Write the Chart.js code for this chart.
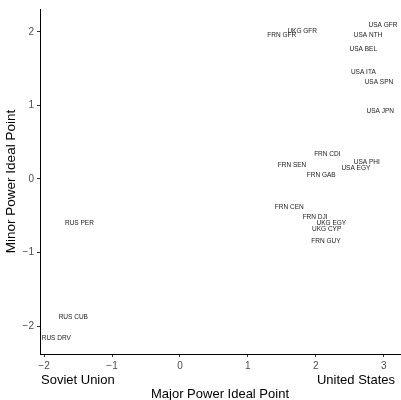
<!DOCTYPE html>
<html>
<head>
<meta charset="utf-8">
<script src="https://cdn.jsdelivr.net/npm/chart.js@4"></script>
<style>
  html, body { margin: 0; padding: 0; background: #fff; }
</style>
</head>
<body>
<canvas id="chart" width="401" height="400"></canvas>
<script>
// Dyad labels and their ideal points
const dyads = [
  "USA GFR", "USA NTH", "UKG GFR", "FRN GFR", "USA BEL", "USA ITA", "USA SPN", "USA JPN",
  "FRN CDI", "USA PHI", "FRN SEN", "USA EGY", "FRN GAB",
  "FRN CEN", "FRN DJI", "UKG EGY", "UKG CYP", "FRN GUY",
  "RUS PER", "RUS CUB", "RUS DRV"
]
const majorPoint = [
  2.99, 2.77, 1.80, 1.50, 2.70, 2.70, 2.93, 2.95,
  2.17, 2.75, 1.65, 2.59, 2.08,
  1.61, 1.99, 2.23, 2.16, 2.15,
  -1.48, -1.57, -1.82
]
const minorPoint = [
  2.09, 1.96, 2.01, 1.95, 1.76, 1.45, 1.31, 0.92,
  0.34, 0.23, 0.18, 0.14, 0.045,
  -0.39, -0.52, -0.60, -0.68, -0.84,
  -0.60, -1.88, -2.16
]

const xTicks = [-2, -1, 0, 1, 2, 3]
const yTicks = [-2, -1, 0, 1, 2]
const poleLabels = ["Soviet Union", "United States"]

const font = "'Liberation Sans', Arial, Helvetica, sans-serif"
const fmt = (v) => (v < 0 ? "\u2212" + Math.abs(v) : String(v))

// Draw the dyad names at their points, and the two pole labels under the x axis
const textPlugin = {
  id: "dyadText",
  afterDatasetsDraw(chart) {
    const ctx = chart.ctx
    const meta = chart.getDatasetMeta(0)
    ctx.save()
    ctx.font = "6.5px " + font
    ctx.fillStyle = "#1a1a1a"
    ctx.textAlign = "center"
    ctx.textBaseline = "middle"
    meta.data.forEach((pt, i) => {
      ctx.fillText(dyads[i], pt.x, pt.y)
    })
    ctx.restore()
  },
  afterDraw(chart) {
    const ctx = chart.ctx
    const area = chart.chartArea
    ctx.save()
    ctx.font = "13px " + font
    ctx.fillStyle = "#000"
    ctx.textBaseline = "middle"
    ctx.textAlign = "left"
    ctx.fillText(poleLabels[0], area.left + 1, 380)
    ctx.textAlign = "right"
    ctx.fillText(poleLabels[1], area.right - 5, 380)
    ctx.restore()
  },
}

new Chart(document.getElementById("chart"), {
  type: "scatter",
  data: {
    datasets: [
      {
        data: majorPoint.map((x, i) => ({ x: x, y: minorPoint[i] })),
        pointRadius: 0,
        pointHoverRadius: 0,
      },
    ],
  },
  options: {
    responsive: false,
    animation: false,
    layout: { padding: { top: 7, right: 1, left: 0, bottom: 0 } },
    plugins: {
      legend: { display: false },
      tooltip: { enabled: false },
    },
    scales: {
      x: {
        type: "linear",
        min: -2.06,
        max: 3.24,
        afterBuildTicks: (s) => { s.ticks = xTicks.map((v) => ({ value: v })) },
        afterFit: (s) => { s.height = 46 },
        border: { display: true, color: "#000", width: 1 },
        grid: { drawOnChartArea: false, drawTicks: true, tickLength: 3, color: "#333" },
        ticks: {
          color: "#4d4d4d",
          padding: 3,
          font: { family: font, size: 10 },
          callback: (v) => fmt(v),
        },
        title: {
          display: true,
          text: "Major Power Ideal Point",
          color: "#000",
          padding: { top: 0, bottom: -2 },
          font: { family: font, size: 13 },
        },
      },
      y: {
        type: "linear",
        min: -2.38,
        max: 2.31,
        afterBuildTicks: (s) => { s.ticks = yTicks.map((v) => ({ value: v })) },
        afterFit: (s) => { s.width = 40 },
        border: { display: true, color: "#000", width: 1 },
        grid: { drawOnChartArea: false, drawTicks: true, tickLength: 3, color: "#333" },
        ticks: {
          color: "#4d4d4d",
          padding: 3,
          font: { family: font, size: 10 },
          callback: (v) => fmt(v),
        },
        title: {
          display: true,
          text: "Minor Power Ideal Point",
          color: "#000",
          padding: { top: 3, bottom: 0 },
          font: { family: font, size: 13.5 },
        },
      },
    },
  },
  plugins: [textPlugin],
})
</script>
</body>
</html>
